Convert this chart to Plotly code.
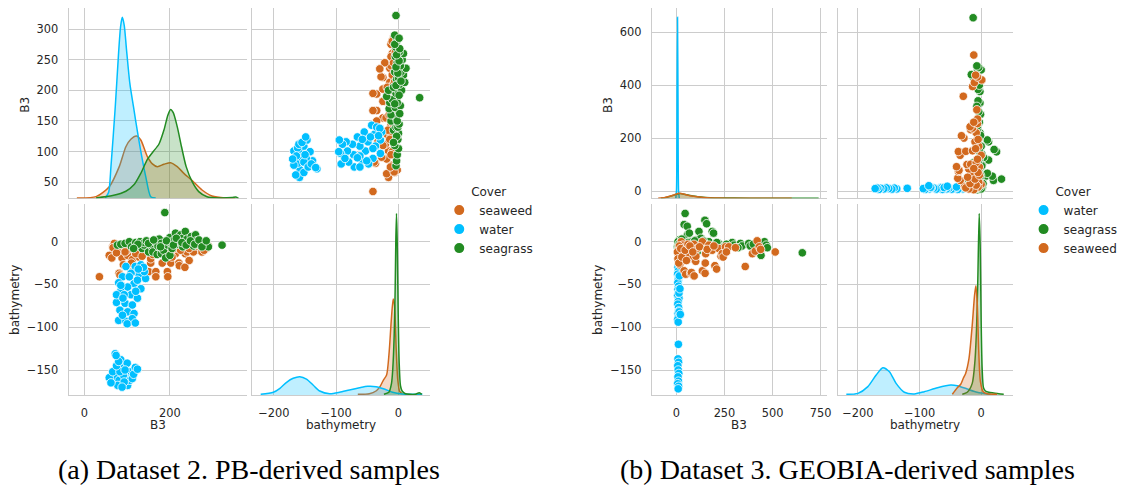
import plotly.graph_objects as go

W, H = 1123, 488

# ---------------- Dataset 2 (PB-derived samples): B3 reflectance and bathymetry per cover class
d2_seaweed_b3 = [58, 66, 78, 88, 81, 93, 101, 91, 109, 112, 120, 128, 136, 143, 155, 150, 167, 163, 174, 182,
                 194, 190, 202, 205, 213, 221, 229, 236, 248, 260, 267, 279, 287, 35, 70, 128, 101, 155, 116, 205,
                 159, 64, 67, 83, 195, 167, 222, 250, 270, 285, 240, 230, 210, 180, 150, 125, 100, 110, 290, 275,
                 245, 235, 140, 170, 185, 200, 215, 225, 255, 262, 280, 120, 95, 75, 135, 160, 190, 245]
d2_seaweed_bathy = [-16, -6, -10, -19, -37, -6, -16, -27, -4, -21, -10, -18, -4, -12, -25, -35, -35, -4, -14, -25,
                    -35, -10, -25, -4, -14, -25, -8, -14, -6, -10, -4, -8, -7, -41, -2, -4, -8, -20, -33, -18,
                    -8, -19, -7, -39, -41, -41, -28, -10, -6, -8, -12, -4, -8, -3, -5, -12, -10, -25, -5, -12,
                    -22, -30, -8, -6, -15, -12, -6, -10, -12, -5, -10, -14, -12, -13, -17, -15, -4, -8]
d2_water_b3 = [72, 85, 89, 70, 58, 81, 97, 109, 119, 101, 78, 106, 91, 66, 112, 83, 93, 75, 100, 88,
               62, 115, 95, 124, 80, 74,
               119, 97, 136, 128, 109, 89, 143, 80, 116, 101, 132, 85, 109, 124, 75, 95, 112, 83, 101, 116,
               80, 97, 112, 89, 105, 124, 85, 75, 140, 132, 93, 120, 138, 126, 100, 90, 119]
d2_water_bathy = [-131, -138, -148, -158, -159, -162, -158, -152, -147, -168, -168, -162, -156, -152, -160, -152,
                  -164, -145, -142, -170, -165, -155, -150, -149, -140, -133,
                  -29, -29, -33, -39, -37, -41, -43, -48, -49, -53, -55, -58, -62, -66, -71, -72, -74, -80, -82,
                  -84, -92, -93, -90, -86, -41, -45, -51, -62, -35, -27, -62, -58, -30, -32, -96, -66, -95]
d2_seagrass_b3 = [77, 85, 95, 105, 110, 120, 130, 135, 140, 140, 145, 150, 155, 160, 160, 165, 170, 172, 175, 180,
                  180, 185, 188, 190, 195, 200, 200, 200, 205, 210, 213, 218, 220, 225, 230, 230, 236, 240, 245, 250,
                  255, 260, 262, 270, 280, 290, 322, 150, 162, 178, 192, 208, 215, 228, 238, 248, 258, 268, 275,
                  285, 125, 115]
d2_seagrass_bathy = [-4, -3, -2, 0, -6, -1, 0, -8, -4, -1, 1, -12, -3, -7, -12, 0, -15, -5, 3, -2,
                     -14, -10, 34, -19, -4, -1, 5, -16, -8, 2, 10, -3, 0, 8, -6, 4, 12, 3, -2, 6,
                     -5, 8, 1, -4, -3, -6, -4, -2, 2, -6, 1, -4, 4, -1, -4, 1, -3, 2, -6,
                     1, -3, -8]

# kernel density curves (relative density) for the diagonal panels of Dataset 2
d2_kde_b3_x = {
    "water": [48.8, 56.6, 62.0, 72.1, 79.8, 84.5, 88.4, 93.0, 98.5, 106.2, 114.7, 124.0, 134.1, 143.4, 155.0, 166.7],
    "seaweed": [-17.8, 27.1, 58.1, 81.4, 96.9, 108.5, 121.7, 131.8, 147.3, 158.9, 170.5, 186.0, 201.6, 217.1,
                232.6, 252.0, 275.2, 298.4, 329.5, 352.7],
    "seagrass": [27.1, 65.9, 96.9, 116.3, 131.8, 147.3, 160.5, 174.4, 186.0, 195.3, 201.6, 207.8, 217.1, 227.1,
                 238.0, 252.0, 267.4, 286.8, 314.0, 345.0, 354.3, 360.5],
}
d2_kde_b3_y = {
    "water": [0.002, 0.033, 0.175, 0.506, 0.801, 0.948, 1.0, 0.957, 0.819, 0.635, 0.506, 0.368, 0.23, 0.12, 0.009,
              0.002],
    "seaweed": [0.002, 0.009, 0.064, 0.175, 0.285, 0.326, 0.344, 0.322, 0.230, 0.190, 0.175, 0.188, 0.197, 0.175,
                0.138, 0.098, 0.046, 0.013, 0.002, 0.002],
    "seagrass": [0.002, 0.015, 0.039, 0.076, 0.138, 0.215, 0.257, 0.300, 0.377, 0.460, 0.491, 0.473, 0.396, 0.285,
                 0.175, 0.092, 0.037, 0.009, 0.002, 0.004, 0.007, 0.0],
}
d2_kde_bathy_x = {
    "water": [-221.3, -201, -190.4, -179.7, -169.1, -158.5, -147.8, -137.2, -126.5, -110.6, -94.6, -78.7, -62.7,
              -49.4, -36.1, -22.8, -9.6, 6.4, 38.3],
    "seaweed": [-65.3, -46.8, -36.1, -29.7, -24.4, -19.1, -14.9, -11.7, -8.5, -6.4, -3.7, -1.1, 2.1, 6.4],
    "seagrass": [-23.4, -15.4, -11.2, -9.1, -6.9, -5.3, -4.3, -3.2, -2.1, -0.5, 1.1, 3.2, 5.9, 11.2, 27.1, 33.4,
                 37.6],
}
d2_kde_bathy_y = {
    "water": [0.004, 0.015, 0.037, 0.07, 0.092, 0.101, 0.088, 0.055, 0.022, 0.007, 0.015, 0.028, 0.04, 0.048,
              0.046, 0.033, 0.015, 0.006, 0.004],
    "seaweed": [0.004, 0.007, 0.022, 0.046, 0.081, 0.11, 0.239, 0.404, 0.528, 0.495, 0.257, 0.083, 0.018, 0.006],
    "seagrass": [0.004, 0.015, 0.064, 0.147, 0.33, 0.587, 0.844, 1.0, 0.862, 0.459, 0.183, 0.051, 0.022, 0.007,
                 0.004, 0.013, 0.004],
}

# ---------------- Dataset 3 (GEOBIA-derived samples)
d3_water_b3 = [8, 10, 6, 12, 9, 7, 11, 8, 10, 6, 13, 9, 7, 11, 12, 8, 10, 6, 9, 14,
               10, 8, 11, 7, 9, 12, 8, 10, 6, 11, 9, 13, 15, 18, 20]
d3_water_bathy = [-30, -34, -38, -41, -45, -48, -52, -56, -60, -63, -66, -70, -73, -77, -81, -84, -88, -91, -94, -82,
                  -120, -137, -141, -145, -150, -154, -158, -163, -166, -169, -172, -60, -40, -55, -85]
d3_seagrass_b3 = [5, 10, 14, 20, 30, 40, 45, 57, 56, 65, 67, 67, 74, 83, 100, 108, 117, 127, 135, 148,
                  157, 160, 167, 169, 186, 193, 220, 225, 246, 290, 300, 333, 341, 376, 384, 431, 440, 458, 462, 467,
                  473, 655, 90, 50, 120, 140, 200, 25, 35, 80, 8, 15, 28, 38, 60, 95, 110, 150, 180, 210,
                  260, 320, 400]
d3_seagrass_bathy = [-6, -5, 2, -3, -1, 20, 33, 8, 18, 0, 10, -6, -8, -18, 2, -12, 12, 4, -2, 25,
                     21, -6, -1, 0, 12, 10, -2, -6, -6, -1, -4, -2, -5, -2, -5, -13, -16, 0, -6, -4,
                     -7, -13, -4, -2, -3, 1, -3, -10, -20, -3, 0, -2, 3, -4, -1, 1, -5, -3, -8, -1,
                     -3, -7, -3]
d3_seaweed_b3 = [10, 17, 17, 20, 25, 33, 33, 40, 48, 57, 65, 66, 74, 78, 83, 91, 92, 100, 101, 108,
                 135, 135, 149, 150, 152, 169, 186, 200, 209, 220, 232, 238, 243, 255, 272, 307, 358, 395, 410, 420,
                 431, 438, 514, 12, 15, 5, 8, 12, 22, 28, 45, 52, 60, 70, 85, 120, 160, 195, 260]
d3_seaweed_bathy = [-15, -21, -27, -17, 0, -4, -12, -34, -38, -8, -14, -15, -37, -36, -20, -3, -40, -23, -17, -8,
                    0, -34, -37, -25, -14, -4, -10, -28, -32, -8, -17, -14, -18, -6, -6, -7, -29, -14, -11, 1,
                    -6, -9, -12, -9, -5, -12, -20, -25, -8, -18, -10, -22, -3, -5, -12, -6, -9, -5, -12]

d3_kde_b3_x = {
    "water": [-4, 0, 3, 5.5, 8, 11, 15],
    "seagrass": [-80, -50, -20, 5, 20, 40, 70, 110, 150, 200, 300, 450, 650, 740],
    "seaweed": [-95, -60, -30, 0, 10, 25, 50, 80, 120, 160, 220, 300, 450, 600],
}
d3_kde_b3_y = {
    "water": [0, 0.04, 0.55, 1.0, 0.55, 0.04, 0],
    "seagrass": [0, 0.006, 0.015, 0.024, 0.026, 0.022, 0.016, 0.009, 0.005, 0.002, 0.001, 0.0008, 0.0004, 0],
    "seaweed": [0, 0.005, 0.013, 0.024, 0.028, 0.026, 0.02, 0.013, 0.007, 0.003, 0.001, 0.0006, 0.0003, 0],
}
d3_kde_bathy_x = {
    "water": [-218.8, -200, -183.9, -170.4, -159.7, -148.9, -138.1, -124.7, -108.5, -92.4, -70.9, -49.4, -38.7,
              -22.6, -6.5, 15.2],
    "seagrass": [-30.6, -22.6, -14.5, -10.2, -7.5, -5.4, -3.2, -1.6, 0, 1.6, 3.8, 7, 12.4, 20.4, 28.5, 36.6],
    "seaweed": [-46.8, -38.7, -33.2, -29, -25.2, -19.8, -14.5, -10.7, -8.6, -6.5, -3.9, -1.2, 3.2, 9.7, 25.8],
}
d3_kde_bathy_y = {
    "water": [0.004, 0.009, 0.046, 0.11, 0.15, 0.128, 0.064, 0.015, 0.006, 0.018, 0.04, 0.055, 0.051, 0.033, 0.015,
              0.004],
    "seagrass": [0.004, 0.015, 0.064, 0.183, 0.367, 0.642, 1.0, 0.826, 0.404, 0.147, 0.04, 0.022, 0.015, 0.011,
                 0.007, 0.004],
    "seaweed": [0.004, 0.04, 0.059, 0.092, 0.119, 0.2, 0.385, 0.55, 0.602, 0.514, 0.239, 0.073, 0.018, 0.007,
                0.004],
}

captions = ["(a) Dataset 2. PB-derived samples", "(b) Dataset 3. GEOBIA-derived samples"]

COLORS = {"water": (0, 191, 255), "seagrass": (34, 139, 34), "seaweed": (210, 105, 30)}
GRID = "#cccccc"
TEXT = "#262626"
SANS = "DejaVu Sans"
TITLE_FONT = dict(family=SANS, size=12, color=TEXT)


def rgba(c, a=1.0):
    return f"rgba({c[0]},{c[1]},{c[2]},{a})"


def fx(p):
    return p / W


def fy(p):
    return 1 - p / H


fig = go.Figure()
layout_axes = {}
annotations = []


def ax_name(letter, i):
    return letter if i == 1 else f"{letter}{i}"


def layout_key(name):
    return name[0] + "axis" + name[1:]


def axis(domain, rng, dtick, labels, anchor, vertical):
    dom = [fy(domain[1]), fy(domain[0])] if vertical else [fx(domain[0]), fx(domain[1])]
    return dict(domain=dom, range=rng, dtick=dtick, tick0=0, anchor=anchor, showgrid=True,
                gridcolor=GRID, gridwidth=1, zeroline=False, showline=True, linecolor=GRID,
                linewidth=1.25, showticklabels=labels, ticks="outside" if labels else "",
                ticklen=7, tickcolor="rgba(0,0,0,0)",
                tickfont=dict(family=SANS, size=11.4, color=TEXT), fixedrange=True)


def pairplot(n0, dens_ids, cols, rows, ranges, dticks, data, kde_b3, kde_bathy, order, legend_id):
    """2x2 pair grid of B3 and bathymetry; n0 is the first axis index."""
    ids = [n0, n0 + 1, n0 + 2, n0 + 3]
    nx = [ax_name("x", i) for i in ids]
    ny = [ax_name("y", i) for i in ids]
    (cl, cr), (rt, rb) = cols, rows
    b3x, bathyx, b3y, bathyy = ranges
    d_b3x, d_b3y, d_bathyx, d_bathyy = dticks
    # top-left, top-right, bottom-left, bottom-right
    spec = [(cl, rt, b3x, b3y, d_b3x, d_b3y, False, True),
            (cr, rt, bathyx, b3y, d_bathyx, d_b3y, False, False),
            (cl, rb, b3x, bathyy, d_b3x, d_bathyy, True, True),
            (cr, rb, bathyx, bathyy, d_bathyx, d_bathyy, True, False)]
    for k, (c, r, rx, ry, dx, dy, xl, yl) in enumerate(spec):
        layout_axes[layout_key(nx[k])] = axis(c, rx, dx, xl, ny[k], False)
        layout_axes[layout_key(ny[k])] = axis(r, ry, dy, yl, nx[k], True)
        # register every panel as a subplot so its frame and grid are drawn
        fig.add_trace(go.Scatter(x=[], y=[], xaxis=nx[k], yaxis=ny[k], showlegend=False, hoverinfo="skip"))
    # hidden density axes sharing the diagonal panels' area
    diag = ((0, rt, kde_b3, dens_ids[0]), (3, rb, kde_bathy, dens_ids[1]))
    for k, r, (kx, ky), did in diag:
        top = 1.05 * max(max(v) for v in ky.values())
        layout_axes[f"yaxis{did}"] = dict(domain=[fy(r[1]), fy(r[0])], anchor=nx[k], range=[0, top],
                                          visible=False, showgrid=False, fixedrange=True)
    for cls in order:
        col = COLORS[cls]
        b3, bathy = data[cls]
        mk = dict(color=rgba(col), size=8.5, line=dict(color="white", width=0.8))
        for k, r, (kx, ky), did in diag:
            fig.add_trace(go.Scatter(x=kx[cls], y=ky[cls], mode="lines", xaxis=nx[k], yaxis=f"y{did}",
                                     line=dict(color=rgba(col), width=1.5, shape="spline", smoothing=0.7),
                                     fill="tozeroy", fillcolor=rgba(col, 0.25), showlegend=False,
                                     hoverinfo="skip"))
        fig.add_trace(go.Scatter(x=bathy, y=b3, mode="markers", xaxis=nx[1], yaxis=ny[1],
                                 marker=mk, showlegend=False))
        fig.add_trace(go.Scatter(x=b3, y=bathy, mode="markers", xaxis=nx[2], yaxis=ny[2],
                                 marker=mk, name=cls, legend=legend_id, showlegend=True))


ROWS = ((8.3, 198.3), (204.3, 395))
pairplot(1, (9, 10), ((69, 248.3), (254, 432.3)), ROWS,
         ([-37.2, 379.8], [-234.6, 50], [23.9, 333.8], [-179.2, 43.7]), (200, 50, 100, 50),
         {"seaweed": (d2_seaweed_b3, d2_seaweed_bathy), "water": (d2_water_b3, d2_water_bathy),
          "seagrass": (d2_seagrass_b3, d2_seagrass_bathy)},
         (d2_kde_b3_x, d2_kde_b3_y), (d2_kde_bathy_x, d2_kde_bathy_y),
         ["seaweed", "water", "seagrass"], "legend")
pairplot(5, (11, 12), ((656, 831.7), (843.3, 1019)), ROWS,
         ([-127.8, 781], [-232.3, 51.1], [-27.6, 690.7], [-179.2, 43.7]), (250, 200, 100, 50),
         {"water": (d3_water_b3, d3_water_bathy), "seagrass": (d3_seagrass_b3, d3_seagrass_bathy),
          "seaweed": (d3_seaweed_b3, d3_seaweed_bathy)},
         (d3_kde_b3_x, d3_kde_b3_y), (d3_kde_bathy_x, d3_kde_bathy_y),
         ["water", "seagrass", "seaweed"], "legend2")


def label(text, x, y, rot=0):
    annotations.append(dict(text=text, x=fx(x), y=fy(y), xref="paper", yref="paper", showarrow=False,
                            textangle=rot, font=TITLE_FONT, xanchor="center", yanchor="middle"))


label("B3", 25, 105, -90)
label("bathymetry", 15, 300, -90)
label("B3", 158.5, 425)
label("bathymetry", 343, 425)
label("B3", 611.7, 105, -90)
label("bathymetry", 601.7, 300, -90)
label("B3", 744, 425)
label("bathymetry", 931, 425)

for text, cx in zip(captions, (251, 853)):
    annotations.append(dict(text=text, x=fx(cx), y=fy(469), xref="paper", yref="paper", showarrow=False,
                            font=dict(family="Liberation Serif", size=28, color="black"),
                            xanchor="center", yanchor="middle"))

legend_style = dict(xanchor="left", yanchor="top", bgcolor="rgba(0,0,0,0)", borderwidth=0,
                    font=dict(family=SANS, size=12, color=TEXT), itemsizing="constant",
                    title=dict(text="Cover", side="top center", font=TITLE_FONT))

fig.update_layout(
    width=W, height=H, margin=dict(l=0, r=0, t=0, b=0),
    paper_bgcolor="white", plot_bgcolor="rgba(0,0,0,0)",
    annotations=annotations,
    legend=dict(x=fx(442), y=fy(180), **legend_style),
    legend2=dict(x=fx(1030), y=fy(180), **legend_style),
    **layout_axes,
)

fig.write_html("out.html")
